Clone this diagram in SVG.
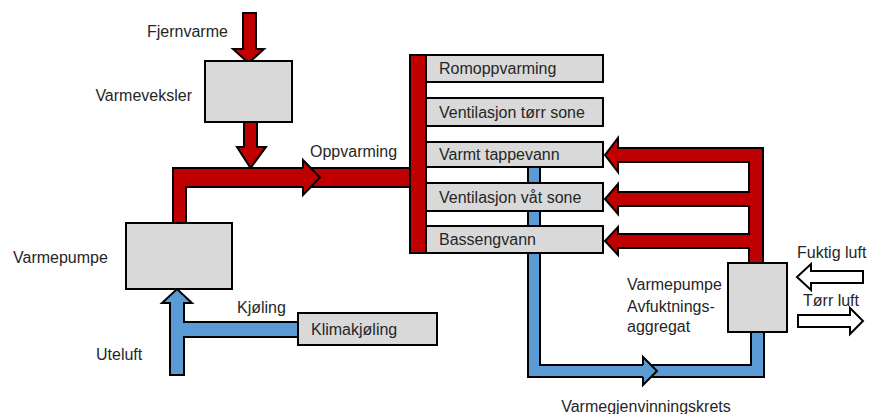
<svg xmlns="http://www.w3.org/2000/svg" width="869" height="414" viewBox="0 0 869 414">
<style>
text{font-family:"Liberation Sans",Arial,sans-serif;font-size:16px;fill:#262626}
.box{fill:#D9D9D9;stroke:#000;stroke-width:2}
.red{fill:#C00000;stroke:#000;stroke-width:2;stroke-linejoin:miter}
.blue{fill:#5B9BD5;stroke:#000;stroke-width:2}
.hollow{fill:#fff;stroke:#000;stroke-width:2}
.nofill{fill:none;stroke:#000;stroke-width:2}
</style>
<rect width="869" height="414" fill="#fff"/>
<g id="connectors">
  <!-- Fjernvarme inflow -->
  <path class="red" d="M243,13 H256 V49 H264 L248.5,63 L233,49 H243 Z"/>
  <!-- Varmeveksler to main pipe -->
  <path class="red" d="M244,122 H257 V147 H266 L250.5,168 L237,147 H244 Z"/>
  <!-- main red pipe (Oppvarming) -->
  <path class="red" d="M173,223 V168 H411 V187 H186 V223 Z"/>
  <path d="M303,160 L320,177.5 L303,195 Z" fill="#C00000"/>
  <polyline class="nofill" points="303,168 303,160 320,177.5 303,195 303,187"/>
  <!-- right red pipe with three arrows -->
  <path class="red" d="M763,264 V148 H618 V138 L605,155 L618,172 V162 H749 V192 H618 V184 L605,199 L618,214 V206 H749 V234 H618 V227 L605,241 L618,255 V248 H749 V264 Z"/>
  <!-- blue recovery loop -->
  <path class="blue" d="M528,167 V377 H764 V331 H751 V365 H540 V167 Z"/>
  <path d="M643,357 L657,371 L643,385 Z" fill="#5B9BD5"/>
  <polyline class="nofill" points="643,365 643,357 657,371 643,385 643,377"/>
  <!-- blue Uteluft / Kjøling -->
  <path class="blue" d="M170,375 V303 H162 L177,289 L192,303 H184 V322 H299 V337 H184 V375 Z"/>
  <!-- air arrows -->
  <path class="hollow" d="M863,271 V283 H811 V290 L797,277 L811,264 V271 Z"/>
  <path class="hollow" d="M798,315 H850 V308 L863,321 L850,334 V327 H798 Z"/>
</g>
<g id="manifold">
  <rect class="red" x="410" y="55" width="16" height="198"/>
</g>
<g id="romoppvarming">
  <rect class="box" x="426" y="55" width="177" height="27"/>
  <text x="439" y="74">Romoppvarming</text>
</g>
<g id="ventilasjon-torr">
  <rect class="box" x="426" y="98" width="177" height="28"/>
  <text x="439" y="118">Ventilasjon tørr sone</text>
</g>
<g id="varmt-tappevann">
  <rect class="box" x="426" y="142" width="177" height="25"/>
  <text x="439" y="160">Varmt tappevann</text>
</g>
<g id="ventilasjon-vat">
  <rect class="box" x="426" y="183" width="177" height="28"/>
  <text x="439" y="203">Ventilasjon våt sone</text>
</g>
<g id="bassengvann">
  <rect class="box" x="426" y="226" width="177" height="27"/>
  <text x="439" y="245">Bassengvann</text>
</g>
<g id="varmeveksler">
  <rect class="box" x="205" y="61" width="87" height="61"/>
  <text x="192" y="101" text-anchor="end">Varmeveksler</text>
</g>
<g id="varmepumpe">
  <rect class="box" x="126" y="223" width="106" height="66"/>
  <text x="13" y="263">Varmepumpe</text>
</g>
<g id="klimakjoling">
  <rect class="box" x="298" y="313" width="139" height="32"/>
  <text x="311" y="335">Klimakjøling</text>
</g>
<g id="avfuktning">
  <rect class="box" x="728" y="263" width="59" height="69"/>
  <text x="627" y="290">Varmepumpe</text>
  <text x="627" y="312">Avfuktnings-</text>
  <text x="627" y="332">aggregat</text>
</g>
<g id="labels">
  <text x="147" y="37">Fjernvarme</text>
  <text x="310" y="157">Oppvarming</text>
  <text x="237" y="313">Kjøling</text>
  <text x="96" y="360">Uteluft</text>
  <text x="797" y="258">Fuktig luft</text>
  <text x="803" y="306">Tørr luft</text>
  <text x="646" y="412" text-anchor="middle">Varmegjenvinningskrets</text>
</g>
</svg>
